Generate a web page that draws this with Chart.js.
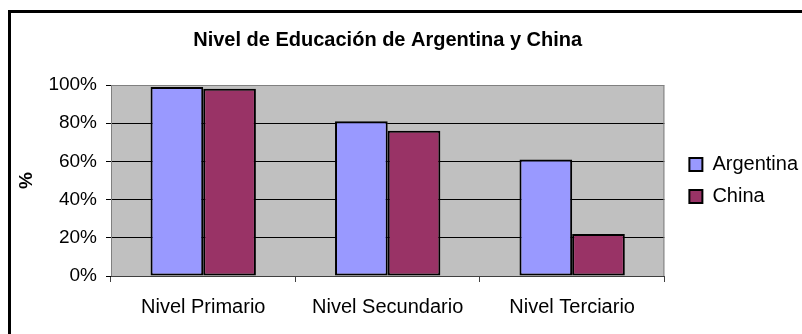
<!DOCTYPE html>
<html>
<head>
<meta charset="utf-8">
<script src="https://cdn.jsdelivr.net/npm/chart.js@4"></script>
<style>
    html, body { margin: 0; padding: 0; background: #fff; }
    #wrap { width: 802px; height: 334px; }
</style>
</head>
<body>
<div id="wrap"><canvas id="chart" width="802" height="334"></canvas></div>
<script>
const categories = ['Nivel Primario', 'Nivel Secundario', 'Nivel Terciario'];
const seriesNames = ['Argentina', 'China'];
const argentinaValues = [99, 81, 61];
const chinaValues = [98, 76, 22];
const yTicks = [0, 20, 40, 60, 80, 100];

const baseFont = { family: "'Liberation Sans', Arial, sans-serif", size: 19 };

// white page, black frame on top/left, grey plot area
const framePlugin = {
    id: 'frame',
    afterLayout(chart) {
        // Excel leaves a wider gap between plot and legend
        chart.legend.left += 13;
        chart.legend.right += 13;
    },
    beforeDraw(chart) {
        const { ctx, chartArea: a } = chart;
        ctx.save();
        ctx.fillStyle = '#fff';
        ctx.fillRect(0, 0, chart.width, chart.height);
        ctx.fillStyle = '#000';
        ctx.fillRect(8, 10, chart.width - 8, 3);
        ctx.fillRect(8, 10, 3, chart.height - 10);
        ctx.fillStyle = '#c0c0c0';
        ctx.fillRect(a.left, a.top, a.right - a.left, a.bottom - a.top);
        ctx.restore();
    },
    beforeDatasetsDraw(chart) {
        const { ctx, chartArea: a } = chart;
        ctx.save();
        ctx.strokeStyle = '#808080';
        ctx.lineWidth = 1;
        ctx.beginPath();
        ctx.moveTo(a.left + 0.5, a.bottom);
        ctx.lineTo(a.left + 0.5, a.top + 0.5);
        ctx.lineTo(a.right - 0.5, a.top + 0.5);
        ctx.lineTo(a.right - 0.5, a.bottom);
        ctx.stroke();
        ctx.restore();
    }
};

function init() {
    const ctx = document.getElementById('chart').getContext('2d');
    new Chart(ctx, {
        type: 'bar',
        data: {
            labels: categories,
            datasets: [
                {
                    label: seriesNames[0],
                    data: argentinaValues,
                    backgroundColor: '#9999ff',
                    borderColor: '#000',
                    borderWidth: 2,
                    borderSkipped: false,
                    categoryPercentage: 0.571,
                    barPercentage: 1.0
                },
                {
                    label: seriesNames[1],
                    data: chinaValues,
                    backgroundColor: '#993366',
                    borderColor: '#000',
                    borderWidth: 2,
                    borderSkipped: false,
                    categoryPercentage: 0.571,
                    barPercentage: 1.0
                }
            ]
        },
        options: {
            responsive: false,
            animation: false,
            layout: { padding: { left: 10, top: 10, right: 7, bottom: 0 } },
            scales: {
                x: {
                    grid: { display: true, drawOnChartArea: false, drawTicks: true, tickLength: 6, color: '#404040', offset: true },
                    border: { display: true, color: '#404040', width: 1 },
                    ticks: { color: '#000', font: { ...baseFont, size: 20 }, padding: 13, maxRotation: 0 },
                    afterFit: s => { s.height = 58; }
                },
                y: {
                    min: 0,
                    max: 100,
                    afterBuildTicks: s => { s.ticks = yTicks.map(v => ({ value: v })); },
                    ticks: { color: '#000', font: baseFont, padding: 9, callback: v => v + '%' },
                    grid: {
                        color: c => (c.tick && c.tick.value === 100) ? '#808080' : '#000',
                        tickColor: '#000',
                        tickLength: 5
                    },
                    border: { display: false },
                    title: { display: true, text: '%', color: '#000', font: { ...baseFont, weight: 'bold' }, padding: { top: 5, bottom: 0 } },
                    afterFit: s => { s.width = 101; }
                }
            },
            plugins: {
                title: {
                    display: true,
                    text: 'Nivel de Educación de Argentina y China',
                    color: '#000',
                    font: { ...baseFont, size: 20, weight: 'bold' },
                    fullSize: false,
                    padding: { top: 18, bottom: 33 }
                },
                legend: {
                    position: 'right',
                    fullSize: false,
                    labels: { boxWidth: 13, boxHeight: 13, padding: 12, color: '#000', font: { ...baseFont, size: 20 } }
                },
                tooltip: { enabled: false }
            }
        },
        plugins: [framePlugin]
    });
}

init();
</script>
</body>
</html>
